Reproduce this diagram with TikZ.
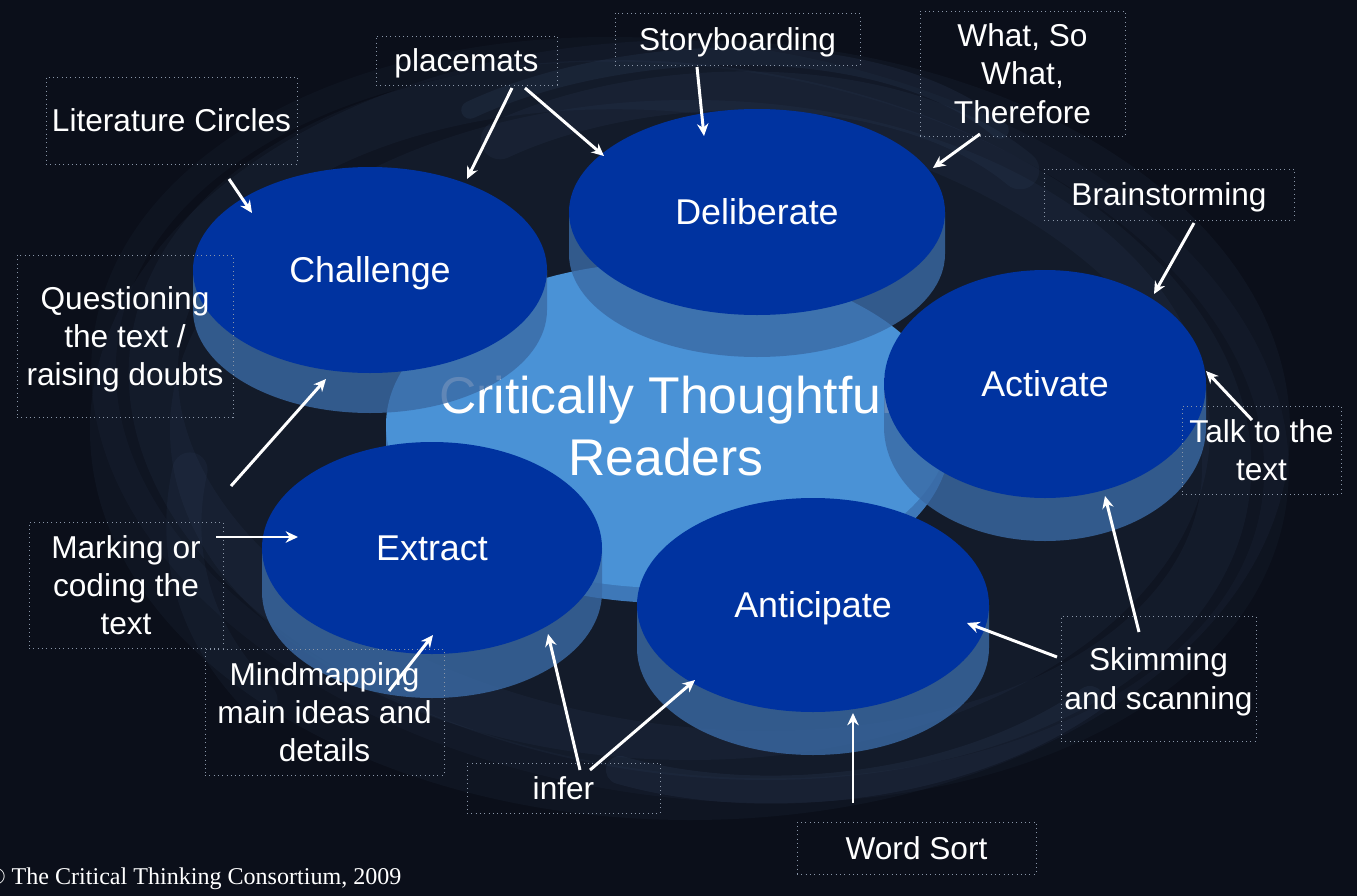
\documentclass[tikz,border=0pt]{standalone}
\usepackage{fontspec}
\setmainfont{Liberation Sans}
\newfontfamily\copyfont{Liberation Serif}
\usetikzlibrary{arrows.meta,shapes.geometric}
\definecolor{bg}{HTML}{0B0F1A}
\definecolor{ovaltop}{HTML}{0033A0}
\definecolor{ovalside}{HTML}{3A6AA5}
\definecolor{centerblue}{HTML}{4A92D6}
\definecolor{centerside}{HTML}{3E78B8}
\definecolor{boxline}{HTML}{8A96A8}
\definecolor{swirl}{HTML}{6A90C8}
\newcommand\ovalside[5]{% cx cy rx ry depth
  \fill[ovalside, opacity=0.8] (#1-#3,#2) -- (#1-#3,#2+#5)
    arc[start angle=180, end angle=0, x radius=#3, y radius=#4]
    -- (#1+#3,#2) -- cycle;}
\begin{document}
\begin{tikzpicture}[x=0.02cm,y=-0.02cm,
  labelbox/.style={draw=boxline, dotted, line width=0.45pt, text=white, align=center,
    inner sep=0pt, text depth=0pt, font=\fontsize{18}{21.8}\selectfont},
  ovaltopstyle/.style={ellipse, fill=ovaltop, inner sep=0pt, text depth=0pt, text=white,
    font=\fontsize{20.4}{24}\selectfont},
  link/.style={draw=white, line width=1.7pt, -{Stealth[length=7pt,width=6.5pt]}},
  haze/.style={swirl, line cap=round},
]
\useasboundingbox (0,0) rectangle (1357,896);
\fill[bg] (0,0) rectangle (1357,896);
% faint swirl (diffuse)
\fill[swirl, opacity=0.05] (690,430) ellipse [x radius=600, y radius=390];
\fill[swirl, opacity=0.05] (690,430) ellipse [x radius=520, y radius=330];
\begin{scope}[rotate around={-8:(690,420)}]
  \draw[haze, opacity=0.05, line width=28pt] (690,420) ellipse [x radius=540, y radius=330];
  \draw[haze, opacity=0.04, line width=14pt] (690,420) ellipse [x radius=590, y radius=365];
\end{scope}
\draw[haze, opacity=0.08, line width=10pt] (470,110) .. controls (620,40) and (880,30) .. (1000,130);
\draw[haze, opacity=0.06, line width=22pt] (500,140) .. controls (650,70) and (900,70) .. (1020,170);
\draw[haze, opacity=0.07, line width=16pt] (620,770) .. controls (760,810) and (960,790) .. (1090,700);
\draw[haze, opacity=0.05, line width=20pt] (190,470) .. controls (170,560) and (200,640) .. (260,700);

% central cylinder
\fill[centerside] (386,425) -- (386,440)
  arc[start angle=180, end angle=0, x radius=282, y radius=163] -- (950,425) -- cycle;
\fill[centerblue] (668,425) ellipse [x radius=282, y radius=163];
\node[text=white, align=center, font=\fontsize{29.4}{35.2}\selectfont] (core) at (666,426)
  {Critically Thoughtful\\Readers};

% ovals
\ovalside{757}{212}{188}{103}{42}
\node[ovaltopstyle, minimum width={376*0.02cm}, minimum height={206*0.02cm}] (deliberate) at (757,212) {Deliberate};
\ovalside{370}{270}{177}{103}{40}
\node[ovaltopstyle, minimum width={354*0.02cm}, minimum height={206*0.02cm}] (challenge) at (370,270) {Challenge};
\ovalside{1045}{384}{161}{114}{43}
\node[ovaltopstyle, minimum width={322*0.02cm}, minimum height={228*0.02cm}] (activate) at (1045,384) {Activate};
\ovalside{432}{548}{170}{106}{44}
\node[ovaltopstyle, minimum width={340*0.02cm}, minimum height={212*0.02cm}] (extract) at (432,548) {Extract};
\ovalside{813}{605}{176}{107}{43}
\node[ovaltopstyle, minimum width={352*0.02cm}, minimum height={214*0.02cm}] (anticipate) at (813,605) {Anticipate};

% label boxes
\node[labelbox, minimum width={251*0.02cm}, minimum height={87*0.02cm}] (litcircles) at (171.5,120.5) {Literature Circles};
\node[labelbox, minimum width={181*0.02cm}, minimum height={49*0.02cm}] (placemats) at (466.5,60.5) {placemats};
\node[labelbox, minimum width={245*0.02cm}, minimum height={52*0.02cm}] (storyboard) at (737.5,39) {Storyboarding};
\node[labelbox, minimum width={205*0.02cm}, minimum height={125*0.02cm}] (whatso) at (1022.5,73.5) {What, So\\What,\\Therefore};
\node[labelbox, minimum width={250*0.02cm}, minimum height={51*0.02cm}] (brainstorm) at (1169,194.5) {Brainstorming};
\node[labelbox, minimum width={216*0.02cm}, minimum height={162*0.02cm}] (question) at (125,336) {Questioning\\the text /\\raising doubts};
\node[labelbox, minimum width={159*0.02cm}, minimum height={88*0.02cm}] (talk) at (1261.5,450) {Talk to the\\text};
\node[labelbox, minimum width={194*0.02cm}, minimum height={126*0.02cm}] (marking) at (126,585) {Marking or\\coding the\\text};
\node[labelbox, minimum width={239*0.02cm}, minimum height={126*0.02cm}] (mindmap) at (324.5,712) {Mindmapping\\main ideas and\\details};
\node[labelbox, minimum width={193*0.02cm}, minimum height={50*0.02cm}] (infer) at (563.5,788) {infer};
\node[labelbox, minimum width={239*0.02cm}, minimum height={52*0.02cm}] (wordsort) at (916.5,848) {Word Sort};
\node[labelbox, minimum width={195*0.02cm}, minimum height={125*0.02cm}] (skim) at (1158.5,678.5) {Skimming\\and scanning};

% connector end points
\coordinate (lc-s) at (229,179);   \coordinate (lc-e) at (252,213);
\coordinate (pm1-s) at (512,88);   \coordinate (pm1-e) at (467,179);
\coordinate (pm2-s) at (525,88);   \coordinate (pm2-e) at (604,156);
\coordinate (sb-s) at (697,67);    \coordinate (sb-e) at (704,136);
\coordinate (ws-s) at (980,134);   \coordinate (ws-e) at (933,168);
\coordinate (bs-s) at (1194,223);  \coordinate (bs-e) at (1154,294);
\coordinate (tt-s) at (1252,420);  \coordinate (tt-e) at (1206,371);
\coordinate (q-s) at (231,486);    \coordinate (q-e) at (326,379);
\coordinate (mk-s) at (216,537);   \coordinate (mk-e) at (298,537);
\coordinate (mm-s) at (389,691);   \coordinate (mm-e) at (433,635);
\coordinate (in1-s) at (580,770);  \coordinate (in1-e) at (548,634);
\coordinate (in2-s) at (590,770);  \coordinate (in2-e) at (695,680);
\coordinate (wd-s) at (853,803);   \coordinate (wd-e) at (853,713);
\coordinate (sk1-s) at (1057,657); \coordinate (sk1-e) at (967,623);
\coordinate (sk2-s) at (1139,632); \coordinate (sk2-e) at (1105,496);

\draw[link] (lc-s) -- (lc-e);
\draw[link] (pm1-s) -- (pm1-e);
\draw[link] (pm2-s) -- (pm2-e);
\draw[link] (sb-s) -- (sb-e);
\draw[link] (ws-s) -- (ws-e);
\draw[link] (bs-s) -- (bs-e);
\draw[link] (tt-s) -- (tt-e);
\draw[link] (q-s) -- (q-e);
\draw[link] (mk-s) -- (mk-e);
\draw[link] (mm-s) -- (mm-e);
\draw[link] (in1-s) -- (in1-e);
\draw[link] (in2-s) -- (in2-e);
\draw[link] (wd-s) -- (wd-e);
\draw[link] (sk1-s) -- (sk1-e);
\draw[link] (sk2-s) -- (sk2-e);

\node[anchor=base west, inner sep=0pt, text=white, font=\copyfont\fontsize{13.7}{16}\selectfont] (copyright) at (-13,884) {© The Critical Thinking Consortium, 2009};
\end{tikzpicture}
\end{document}
